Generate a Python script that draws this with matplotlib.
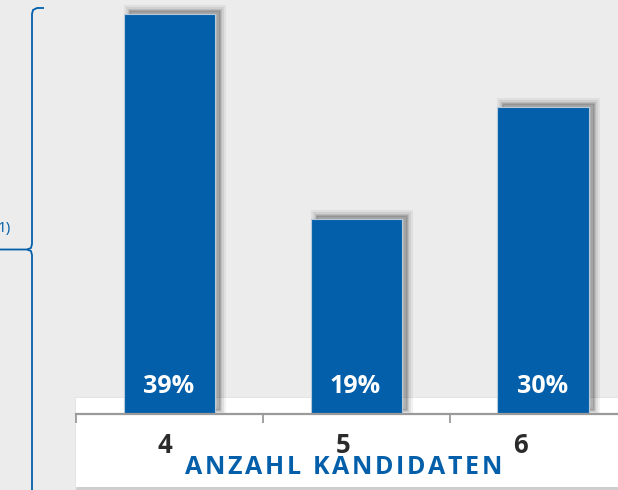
import numpy as np
import matplotlib.pyplot as plt
from matplotlib.patches import Rectangle
from matplotlib.lines import Line2D
import matplotlib.transforms as mtransforms

plt.rcParams['font.family'] = ['Open Sans', 'DejaVu Sans']

categories = ["4", "5", "6"]
shares = [39, 19, 30]
value_labels = ["39%", "19%", "30%"]
axis_title = "ANZAHL KANDIDATEN"
note_text = "1)"

BLUE = "#035fa9"
W, H = 618, 490

fig = plt.figure(figsize=(W / 100, H / 100), dpi=100)
fig.patch.set_facecolor("#ececec")


def px(x, y):
    # pixel position measured from the top left -> figure fraction
    return x / W, 1 - y / H


# white panel behind the category axis, with a soft shadow
for k, a in [(6, 0.03), (4, 0.04), (2, 0.06)]:
    x0, y0 = px(76 - k / 2 + 2, 487 + k / 2 + 2)
    fig.add_artist(Rectangle((x0, y0), (W - 76 + k) / W, (89 + k) / H,
                             transform=fig.transFigure, facecolor="black",
                             edgecolor="none", alpha=a, zorder=-2))
x0, y0 = px(76, 487)
fig.add_artist(Rectangle((x0, y0), (W - 76) / W, 89 / H,
                         transform=fig.transFigure, facecolor="white",
                         edgecolor="none", zorder=-1))

# bar axes
l, b = px(76, 414)
ax = fig.add_axes([l, b, 1 - l, 1 - b])
ax.patch.set_alpha(0)
x = np.arange(len(categories))
ax.set_xlim(-0.5, 2.4)
ax.set_ylim(0, 40.4)

# shadows, shifted to the upper right and softened
shift = mtransforms.ScaledTranslation(5 / 100, 4 / 100, fig.dpi_scale_trans)
for xi, v in zip(x, shares):
    for lw, a in [(8, 0.05), (5, 0.07), (2, 0.1)]:
        ax.add_patch(Rectangle((xi - 0.245, 0), 0.49, v,
                               transform=ax.transData + shift,
                               facecolor="black", edgecolor="black",
                               linewidth=lw, alpha=a, zorder=1))

ax.bar(x, shares, width=0.49, color=BLUE, edgecolor="#b9c9dc",
       linewidth=0.8, zorder=2)

for xi, lab in zip(x, value_labels):
    ax.annotate(lab, (xi, 0), xytext=(-1, 28), textcoords="offset pixels",
                ha="center", va="center", color="white", fontsize=18,
                fontweight="bold", zorder=3)

for s in ["top", "right", "left"]:
    ax.spines[s].set_visible(False)
ax.spines["bottom"].set_color("#9a9a9a")
ax.spines["bottom"].set_linewidth(1.6)
ax.spines["bottom"].set_zorder(4)
ax.set_yticks([])
ax.set_xticks(x - 0.5)
ax.set_xticklabels([])
ax.tick_params(axis="x", direction="out", length=6.5, width=1.3,
               color="#9a9a9a")

# category labels (sit slightly left of bar centres in the original)
label_shift = [-0.025, -0.072, -0.12]
for xi, cat, dx in zip(x, categories, label_shift):
    ax.text(xi + dx, -445 / 414 * 40.4 + 40.4, cat, ha="center",
            va="center", fontsize=18.5, fontweight="bold", color="#2b2b2b",
            clip_on=False)

# letter-spaced axis title
fig.canvas.draw()
renderer = fig.canvas.get_renderer()
tx, ty = px(185, 467)
chars = []
widths = []
for ch in axis_title:
    t = fig.text(0, ty, ch if ch != " " else "A", fontsize=18,
                 fontweight="bold", color=BLUE, ha="left", va="center")
    bb = t.get_window_extent(renderer)
    if ch == " ":
        t.remove()
        chars.append(None)
        widths.append(7)
    else:
        chars.append(t)
        widths.append(bb.width)
gap = (317 - sum(widths)) / (len(axis_title) - 1)
cur = 185
for t, w in zip(chars, widths):
    if t is not None:
        t.set_x(cur / W)
    cur += w + gap

# bracket on the left
bx = 32
brace = [(44, 8), (37, 8), (33, 10), (bx, 14), (bx, 244), (31, 248),
         (27, 249.5), (0, 249.5)]
brace2 = [(27, 249.5), (31, 251), (bx, 255), (bx, 492)]
for pts in (brace, brace2):
    xs, ys = zip(*[px(p, q) for p, q in pts])
    fig.add_artist(Line2D(xs, ys, transform=fig.transFigure, color=BLUE,
                          linewidth=1.3, solid_capstyle="butt"))
nx, ny = px(11, 228)
fig.text(nx, ny, note_text, ha="right", va="center", fontsize=11,
         color=BLUE)

fig.savefig("out.png", dpi=100, facecolor=fig.get_facecolor())
